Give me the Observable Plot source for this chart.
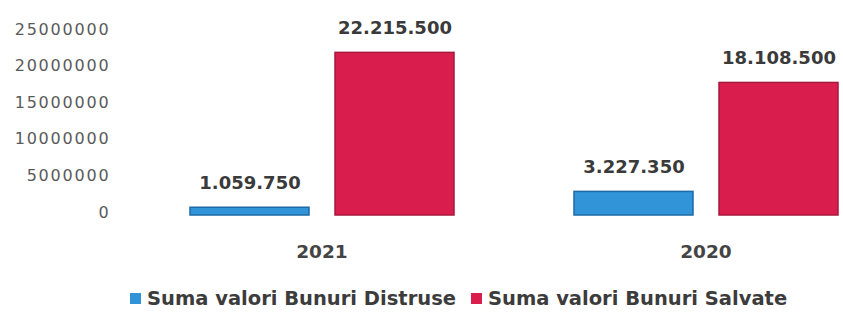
<!DOCTYPE html>
<html>
<head>
<meta charset="utf-8">
<script src="https://cdn.jsdelivr.net/npm/d3@7"></script>
<script src="https://cdn.jsdelivr.net/npm/@observablehq/plot@0.6"></script>
<style>
  html, body { margin: 0; padding: 0; background: #fff; }
  body { width: 843px; height: 318px; overflow: hidden; font-family: "DejaVu Sans", sans-serif; }
  g[aria-label="y-axis tick label"] { letter-spacing: 1.8px; }
  .legend { display: flex; align-items: center; height: 32px; padding-left: 130px; font-weight: bold; font-size: 19.5px; color: #3c3c3c; }
  .legend .item { display: flex; align-items: center; margin-right: 15px; }
  .legend .sw { width: 11px; height: 11px; margin-right: 6px; }
</style>
</head>
<body>
<div id="chart"></div>
<script>
const years = ["2021", "2020"];
const seriesNames = ["Suma valori Bunuri Distruse", "Suma valori Bunuri Salvate"];
const distruse = [1059750, 3227350];
const salvate = [22215500, 18108500];
const yTicks = [0, 5000000, 10000000, 15000000, 20000000, 25000000];
const colors = ["#3193d8", "#d91e4d"];
const strokes = ["#1d6aa6", "#a8173c"];

const data = [];
years.forEach((yr, i) => {
  data.push({year: yr, series: seriesNames[0], value: distruse[i]});
  data.push({year: yr, series: seriesNames[1], value: salvate[i]});
});

const fmt = d3.formatLocale({decimal: ",", thousands: ".", grouping: [3], currency: ["", ""]}).format(",d");

const chart = Plot.plot({
  width: 843,
  height: 282,
  marginLeft: 188,
  marginRight: 5,
  marginTop: 32,
  marginBottom: 67,
  style: {fontFamily: "DejaVu Sans, sans-serif", background: "#fff"},
  fx: {domain: years, paddingInner: 0.31, paddingOuter: 0, label: null},
  x: {domain: seriesNames, paddingInner: 0.18, paddingOuter: 0, axis: null},
  y: {domain: [0, 25000000], label: null},
  color: {domain: seriesNames, range: colors},
  marks: [
    Plot.axisY({ticks: yTicks, tickFormat: d => String(d), tickSize: 0, tickPadding: 79, dy: -3, fontSize: 16, fill: "#5a5a5a", label: null}),
    Plot.axisFx({anchor: "bottom", tickSize: 0, tickPadding: 29, fontSize: 18.5, fontWeight: "bold", fill: "#444", label: null}),
    Plot.barY(data, {fx: "year", x: "series", y: "value", fill: "series", stroke: d => strokes[seriesNames.indexOf(d.series)], strokeWidth: 1.5}),
    Plot.text(data, {fx: "year", x: "series", y: "value", text: d => fmt(d.value), dy: -25, fontSize: 18, fontWeight: "bold", fill: "#3a3a3a"})
  ]
});
document.getElementById("chart").appendChild(chart);

const legend = document.createElement("div");
legend.className = "legend";
seriesNames.forEach((name, i) => {
  const item = document.createElement("div");
  item.className = "item";
  const sw = document.createElement("span");
  sw.className = "sw";
  sw.style.background = colors[i];
  const label = document.createElement("span");
  label.textContent = name;
  item.appendChild(sw);
  item.appendChild(label);
  legend.appendChild(item);
});
document.body.appendChild(legend);
</script>
</body>
</html>
